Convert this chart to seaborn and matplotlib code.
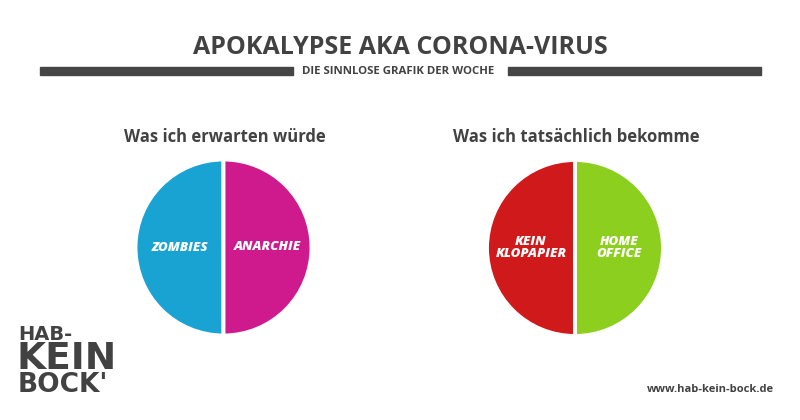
import matplotlib
matplotlib.use("Agg")
import matplotlib.pyplot as plt
import seaborn as sns

sns.set_theme(style="white")
plt.rcParams['font.family'] = ['Open Sans', 'DejaVu Sans']

# ---------------- data ----------------
title = "APOKALYPSE AKA CORONA-VIRUS"
subtitle = "DIE SINNLOSE GRAFIK DER WOCHE"

left_title = "Was ich erwarten würde"
left_labels = ["ZOMBIES", "ANARCHIE"]
left_values = [50, 50]
left_colors = ["#19a3d3", "#cf1a8e"]

right_title = "Was ich tatsächlich bekomme"
right_labels = ["KEIN\nKLOPAPIER", "HOME\nOFFICE"]
right_values = [50, 50]
right_colors = ["#d0191b", "#8dcf1e"]

logo_lines = ["HAB-", "KEIN", "BOCK'"]
url = "www.hab-kein-bock.de"

dark = "#424242"
W, H = 800, 420

fig = plt.figure(figsize=(8, 4.2), dpi=100)
fig.patch.set_facecolor("white")


def fx(x):
    return x / W


def fy(y):
    return 1 - y / H


# header
fig.text(fx(400), fy(47), title, ha="center", va="center", fontsize=18,
         fontweight="bold", color=dark)
fig.text(fx(398), fy(71.5), subtitle, ha="center", va="center", fontsize=8.2,
         fontweight="bold", color=dark)
fig.patches.append(matplotlib.patches.Rectangle((fx(40), fy(75)), fx(253), 8 / H,
                   transform=fig.transFigure, color="#454545"))
fig.patches.append(matplotlib.patches.Rectangle((fx(508), fy(75)), fx(253), 8 / H,
                   transform=fig.transFigure, color="#454545"))


def draw_pie(cx, cy, r, values, labels, colors, head):
    ax = fig.add_axes([fx(cx - r), fy(cy + r), 2 * r / W, 2 * r / H])
    wedges, texts = ax.pie(values, labels=labels, colors=colors, startangle=90,
                           counterclock=True, labeldistance=0.5,
                           wedgeprops=dict(edgecolor="white", linewidth=2.8))
    for t in texts:
        t.set_ha("center")
        t.set_va("center")
        t.set_color("white")
        t.set_fontsize(9.5)
        t.set_fontweight("heavy")
        t.set_fontstyle("italic")
        t.set_linespacing(1.0)
    ax.set_xlim(-1.0, 1.0)
    ax.set_ylim(-1.0, 1.0)
    ax.set_aspect("equal")
    ax.axis("off")
    fig.text(fx(cx + 1), fy(137), head, ha="center", va="center", fontsize=12,
             fontweight="bold", color=dark)


draw_pie(223.5, 247.5, 88, left_values, left_labels, left_colors, left_title)
draw_pie(575, 248, 88, right_values, right_labels, right_colors, right_title)

# logo
logo_fam = ['DejaVu Sans']
fig.text(fx(18), fy(340), logo_lines[0], ha="left", va="baseline", fontsize=14,
         fontweight="bold", color=dark, family=logo_fam)
fig.text(fx(17), fy(369), logo_lines[1], ha="left", va="baseline", fontsize=27,
         fontweight="bold", color=dark, family=logo_fam)
fig.text(fx(18), fy(392), logo_lines[2], ha="left", va="baseline", fontsize=19,
         fontweight="bold", color=dark, family=logo_fam)

fig.text(fx(774), fy(389), url, ha="right", va="center", fontsize=8,
         fontweight="bold", color=dark)

fig.savefig("out.png", dpi=100, facecolor="white")
